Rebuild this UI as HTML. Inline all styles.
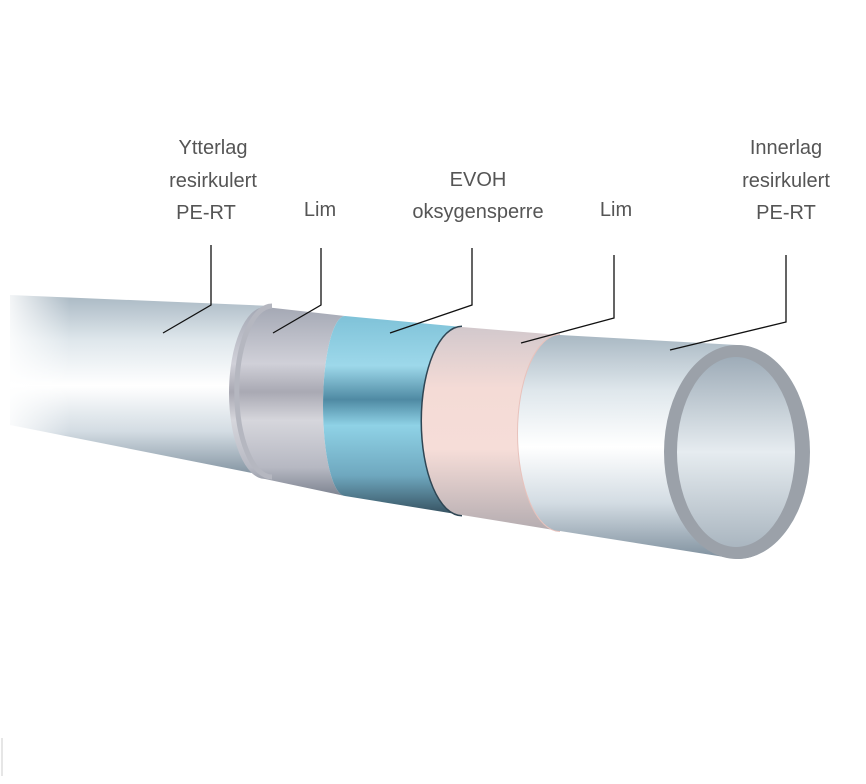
<!DOCTYPE html>
<html><head><meta charset="utf-8"><style>
html,body{margin:0;padding:0;background:#fff;}
svg{display:block;}
text{font-family:"Liberation Sans",sans-serif;font-size:20px;fill:#555;text-anchor:middle;}
</style></head><body>
<svg width="866" height="784" viewBox="0 0 866 784" xmlns="http://www.w3.org/2000/svg">
<defs>
<linearGradient id="gw" x1="0" y1="0" x2="0" y2="1">
<stop offset="0" stop-color="#a9b8c3"/><stop offset="0.25" stop-color="#dfe7ec"/>
<stop offset="0.5" stop-color="#ffffff"/><stop offset="0.75" stop-color="#d3dce3"/><stop offset="1" stop-color="#7f909e"/></linearGradient>
<linearGradient id="gl" x1="0" y1="0" x2="0" y2="1">
<stop offset="0" stop-color="#a4a8b4"/><stop offset="0.3" stop-color="#d0d0d8"/>
<stop offset="0.45" stop-color="#a9a9b3"/><stop offset="0.6" stop-color="#d6d6dc"/><stop offset="0.85" stop-color="#b6b8c2"/><stop offset="1" stop-color="#7d8390"/></linearGradient>
<linearGradient id="gb" x1="0" y1="0" x2="0" y2="1">
<stop offset="0" stop-color="#7fc2d8"/><stop offset="0.25" stop-color="#9dd8ea"/>
<stop offset="0.42" stop-color="#4f8aa3"/><stop offset="0.55" stop-color="#8fd2e6"/><stop offset="0.8" stop-color="#6fa8bf"/><stop offset="1" stop-color="#35505f"/></linearGradient>
<linearGradient id="gp" x1="0" y1="0" x2="0" y2="1">
<stop offset="0" stop-color="#d2c8cc"/><stop offset="0.3" stop-color="#f4dbd6"/>
<stop offset="0.6" stop-color="#f6ddd8"/><stop offset="1" stop-color="#b4acb0"/></linearGradient>
<linearGradient id="gi" x1="0" y1="0" x2="0" y2="1">
<stop offset="0" stop-color="#9eacb8"/><stop offset="0.5" stop-color="#e6ecf0"/><stop offset="1" stop-color="#aab6c0"/></linearGradient>
<linearGradient id="fade" x1="0" y1="0" x2="1" y2="0">
<stop offset="0" stop-color="#fff" stop-opacity="1"/><stop offset="1" stop-color="#fff" stop-opacity="0"/></linearGradient>
</defs>
<path d="M10,295 L272,306 A35 85 0 0 0 272,477 L10,425 Z" fill="url(#gw)"/>
<rect x="0" y="285" width="70" height="150" fill="url(#fade)"/>
<path d="M265,307 L345,316 A22 90 0 0 0 345,496 L265,479 A36 86 0 0 1 265,307 Z" fill="url(#gl)"/>
<path d="M272,306 A35 85 0 0 0 272,477" fill="none" stroke="#b5b7c0" stroke-width="5"/>
<path d="M345,316 L462,327 A40 94 0 0 0 462,515 L345,496 A22 90 0 0 1 345,316 Z" fill="url(#gb)"/>
<path d="M462,327 A40 94 0 0 0 462,515" fill="none" stroke="#2f4654" stroke-width="3"/>
<path d="M462,327 L560,335 A42 98 0 0 0 560,531 L462,515 A40 94 0 0 1 462,327 Z" fill="url(#gp)"/>
<path d="M560,335 A42 98 0 0 0 560,531" fill="none" stroke="#e8c2bc" stroke-width="2"/>
<path d="M560,335 L737,345 A73 107 0 0 1 737,559 L560,531 A42 98 0 0 1 560,335 Z" fill="url(#gw)"/>
<ellipse cx="737" cy="452" rx="73" ry="107" fill="#9ba1a9"/>
<ellipse cx="736" cy="452" rx="59" ry="95" fill="url(#gi)"/>
<g fill="none" stroke="#111" stroke-width="1.3">
<polyline points="211,245 211,305 163,333"/>
<polyline points="321,248 321,305 273,333"/>
<polyline points="472,248 472,305 390,333"/>
<polyline points="614,255 614,318 521,343"/>
<polyline points="786,255 786,322 670,350"/>
</g>
<line x1="2" y1="738" x2="2" y2="776" stroke="#ccc" stroke-width="1"/>
<text x="213" y="154">Ytterlag</text>
<text x="213" y="187">resirkulert</text>
<text x="206" y="219">PE-RT</text>
<text x="320" y="216">Lim</text>
<text x="478" y="186">EVOH</text>
<text x="478" y="218">oksygensperre</text>
<text x="616" y="216">Lim</text>
<text x="786" y="154">Innerlag</text>
<text x="786" y="187">resirkulert</text>
<text x="786" y="219">PE-RT</text>
</svg>
</body></html>
